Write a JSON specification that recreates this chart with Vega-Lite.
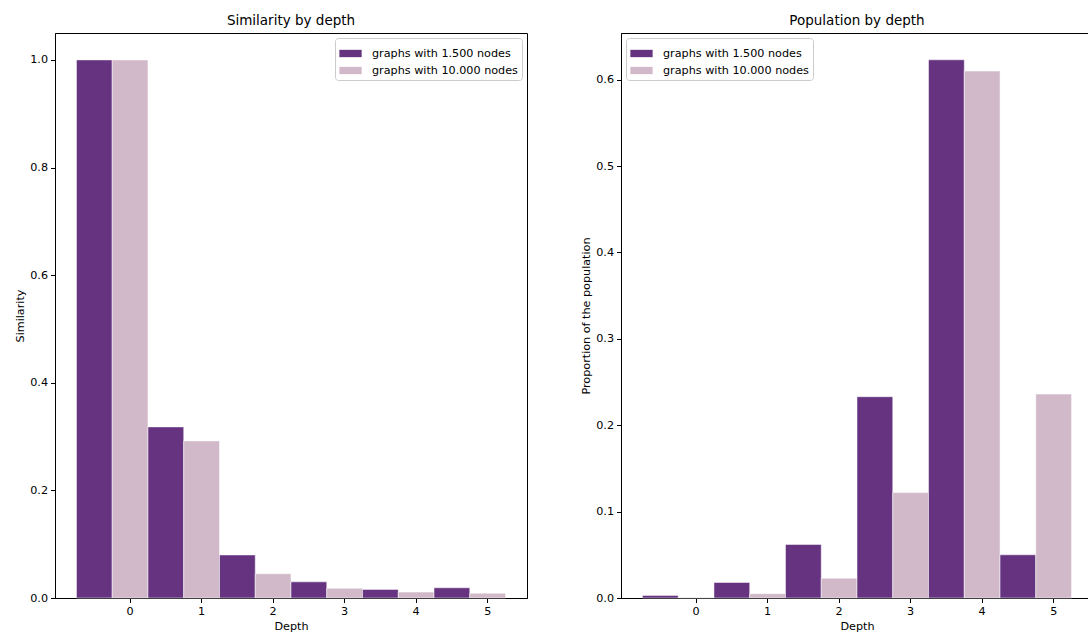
{
  "$schema": "https://vega.github.io/schema/vega-lite/v6.json",
  "padding": {"left": 14, "top": 13, "right": 0, "bottom": 0},
  "background": "white",
  "spacing": 94,
  "bounds": "flush",
  "config": {
    "font": "DejaVu Sans",
    "view": {"stroke": "black", "strokeWidth": 1},
    "axis": {
      "grid": false,
      "domainColor": "black",
      "tickColor": "black",
      "tickSize": 4.5,
      "labelFont": "DejaVu Sans",
      "labelFontSize": 11.2,
      "labelColor": "black",
      "labelPadding": 3,
      "titleFont": "DejaVu Sans",
      "titleFontSize": 11.2,
      "titleFontWeight": "normal",
      "titleColor": "black",
      "titlePadding": 4
    },
    "title": {"font": "DejaVu Sans", "fontSize": 13.5, "fontWeight": "normal", "offset": 6, "color": "black"},
    "legend": {
      "fillColor": "white",
      "strokeColor": "#cccccc",
      "cornerRadius": 3,
      "padding": 4,
      "labelFont": "DejaVu Sans",
      "labelFontSize": 11.2,
      "labelColor": "black",
      "symbolType": "M-1,-0.33H1V0.33H-1Z",
      "symbolSize": 497,
      "symbolStrokeWidth": 0,
      "symbolOpacity": 1,
      "labelOffset": 10,
      "rowPadding": 0,
      "offset": 5
    }
  },
  "datasets": {
    "sim": [
      {"depth": 0, "series": "graphs with 1.500 nodes", "value": 1.0},
      {"depth": 0, "series": "graphs with 10.000 nodes", "value": 1.0},
      {"depth": 1, "series": "graphs with 1.500 nodes", "value": 0.318},
      {"depth": 1, "series": "graphs with 10.000 nodes", "value": 0.292},
      {"depth": 2, "series": "graphs with 1.500 nodes", "value": 0.080},
      {"depth": 2, "series": "graphs with 10.000 nodes", "value": 0.045},
      {"depth": 3, "series": "graphs with 1.500 nodes", "value": 0.030},
      {"depth": 3, "series": "graphs with 10.000 nodes", "value": 0.018},
      {"depth": 4, "series": "graphs with 1.500 nodes", "value": 0.016},
      {"depth": 4, "series": "graphs with 10.000 nodes", "value": 0.011},
      {"depth": 5, "series": "graphs with 1.500 nodes", "value": 0.019},
      {"depth": 5, "series": "graphs with 10.000 nodes", "value": 0.009}
    ],
    "pop": [
      {"depth": 0, "series": "graphs with 1.500 nodes", "value": 0.003},
      {"depth": 0, "series": "graphs with 10.000 nodes", "value": 0.0005},
      {"depth": 1, "series": "graphs with 1.500 nodes", "value": 0.018},
      {"depth": 1, "series": "graphs with 10.000 nodes", "value": 0.005},
      {"depth": 2, "series": "graphs with 1.500 nodes", "value": 0.062},
      {"depth": 2, "series": "graphs with 10.000 nodes", "value": 0.023},
      {"depth": 3, "series": "graphs with 1.500 nodes", "value": 0.233},
      {"depth": 3, "series": "graphs with 10.000 nodes", "value": 0.122},
      {"depth": 4, "series": "graphs with 1.500 nodes", "value": 0.623},
      {"depth": 4, "series": "graphs with 10.000 nodes", "value": 0.610},
      {"depth": 5, "series": "graphs with 1.500 nodes", "value": 0.050},
      {"depth": 5, "series": "graphs with 10.000 nodes", "value": 0.236}
    ]
  },
  "hconcat": [
    {
      "title": "Similarity by depth",
      "width": 472,
      "height": 565,
      "data": {"name": "sim"},
      "mark": {"type": "bar", "stroke": "white", "strokeWidth": 0.5},
      "encoding": {
        "x": {
          "field": "depth", "type": "ordinal",
          "scale": {"domain": [0, 1, 2, 3, 4, 5], "paddingInner": 0, "paddingOuter": 0.3},
          "axis": {"title": "Depth", "labelAngle": 0, "bandPosition": 0.75, "labelOffset": 17.9}
        },
        "xOffset": {
          "field": "series", "type": "nominal",
          "scale": {"domain": ["graphs with 1.500 nodes", "graphs with 10.000 nodes"], "paddingInner": 0, "paddingOuter": 0}
        },
        "y": {
          "field": "value", "type": "quantitative",
          "scale": {"domain": [0, 1.05], "nice": false},
          "axis": {"title": "Similarity", "values": [0, 0.2, 0.4, 0.6, 0.8, 1.0], "format": ".1f"}
        },
        "color": {
          "field": "series", "type": "nominal",
          "scale": {"domain": ["graphs with 1.500 nodes", "graphs with 10.000 nodes"], "range": ["#663380", "#d1b9ca"]},
          "legend": {"title": null, "orient": "top-right"}
        }
      }
    },
    {
      "title": "Population by depth",
      "width": 472,
      "height": 565,
      "data": {"name": "pop"},
      "mark": {"type": "bar", "stroke": "white", "strokeWidth": 0.5},
      "encoding": {
        "x": {
          "field": "depth", "type": "ordinal",
          "scale": {"domain": [0, 1, 2, 3, 4, 5], "paddingInner": 0, "paddingOuter": 0.3},
          "axis": {"title": "Depth", "labelAngle": 0, "bandPosition": 0.75, "labelOffset": 17.9}
        },
        "xOffset": {
          "field": "series", "type": "nominal",
          "scale": {"domain": ["graphs with 1.500 nodes", "graphs with 10.000 nodes"], "paddingInner": 0, "paddingOuter": 0}
        },
        "y": {
          "field": "value", "type": "quantitative",
          "scale": {"domain": [0, 0.654], "nice": false},
          "axis": {"title": "Proportion of the population", "values": [0, 0.1, 0.2, 0.3, 0.4, 0.5, 0.6], "format": ".1f"}
        },
        "color": {
          "field": "series", "type": "nominal",
          "scale": {"domain": ["graphs with 1.500 nodes", "graphs with 10.000 nodes"], "range": ["#663380", "#d1b9ca"]},
          "legend": {"title": null, "orient": "top-left"}
        }
      }
    }
  ],
  "resolve": {"legend": {"color": "independent"}}
}
